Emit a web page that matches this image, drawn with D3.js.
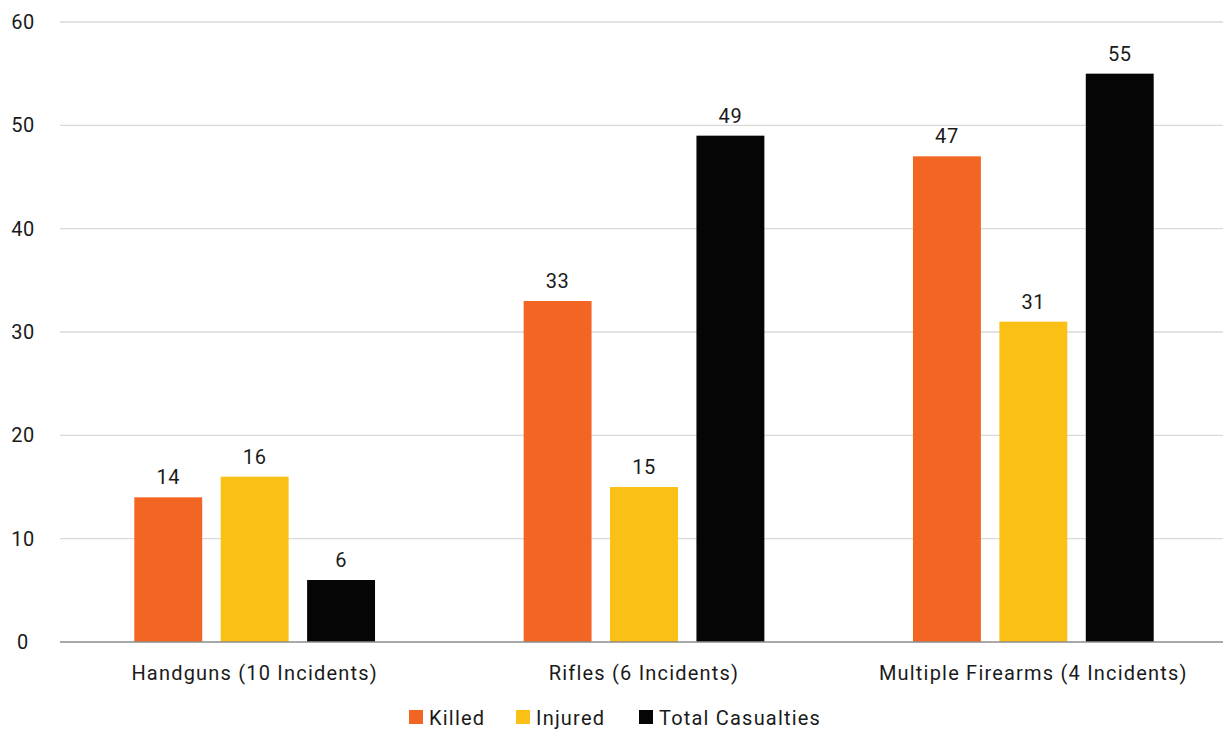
<!DOCTYPE html>
<html><head><meta charset="utf-8">
<script src="https://cdn.jsdelivr.net/npm/d3@7"></script>
<style>body{margin:0;background:#fff;} text{font-family:Roboto, "DejaVu Sans", sans-serif;fill:#1a1a1a;}</style>
</head><body>
<svg id="c" width="1223" height="733"></svg>
<script>
const categories = ["Handguns (10 Incidents)", "Rifles (6 Incidents)", "Multiple Firearms (4 Incidents)"];
const seriesNames = ["Killed", "Injured", "Total Casualties"];
const killed = [14, 33, 47];
const injured = [16, 15, 31];
const total = [6, 49, 55];
const yTicks = [0, 10, 20, 30, 40, 50, 60];
const colors = ["#F26522", "#FBC015", "#050505"];
const seriesValues = [killed, injured, total];

(function(){
const svg = d3.select("#c");
const mLeft = 60, mRight = 1223, mTop = 22, mBottom = 642;
const x0 = d3.scaleBand().domain(categories).range([mLeft, 1228]).padding(0);
const x1 = d3.scaleBand().domain(seriesNames).range([0, x0.bandwidth()]).paddingInner(0.214).paddingOuter(0.86);
const y = d3.scaleLinear().domain([0, 60]).range([mBottom, mTop]);

svg.append("g").selectAll("line").data(yTicks.filter(d => d > 0)).join("line")
  .attr("x1", mLeft).attr("x2", mRight).attr("y1", d => y(d)).attr("y2", d => y(d))
  .attr("stroke", "#d9d9d9").attr("stroke-width", 1.3);
svg.append("g").selectAll("text").data(yTicks).join("text")
  .attr("x", 23).attr("y", d => y(d)).attr("dy", "0.35em").attr("text-anchor", "middle")
  .attr("font-size", 20).attr("letter-spacing", 0.6).text(d => d);

const g = svg.append("g");
categories.forEach((c, ci) => {
  seriesNames.forEach((s, si) => {
    const v = seriesValues[si][ci];
    g.append("rect").attr("x", x0(c) + x1(s)).attr("width", x1.bandwidth())
      .attr("y", y(v)).attr("height", y(0) - y(v)).attr("fill", colors[si]);
    g.append("text").attr("x", x0(c) + x1(s) + x1.bandwidth() / 2).attr("y", y(v) - 13)
      .attr("text-anchor", "middle").attr("font-size", 20).attr("letter-spacing", 0.6).text(v);
  });
});
svg.append("line").attr("x1", mLeft).attr("x2", mRight).attr("y1", y(0)).attr("y2", y(0))
  .attr("stroke", "#8c8c8c").attr("stroke-width", 1.5);
svg.append("g").selectAll("text").data(categories).join("text")
  .attr("x", d => x0(d) + x0.bandwidth() / 2).attr("y", 680).attr("text-anchor", "middle")
  .attr("font-size", 20).attr("letter-spacing", 1.2).text(d => d);

const legendX = [409, 516, 639];
const lg = svg.append("g");
seriesNames.forEach((s, i) => {
  lg.append("rect").attr("x", legendX[i]).attr("y", 710).attr("width", 14).attr("height", 14).attr("fill", colors[i]);
  lg.append("text").attr("x", legendX[i] + 20).attr("y", 725).attr("font-size", 20).attr("letter-spacing", 1.2).text(s);
});
})();
</script>
</body></html>
